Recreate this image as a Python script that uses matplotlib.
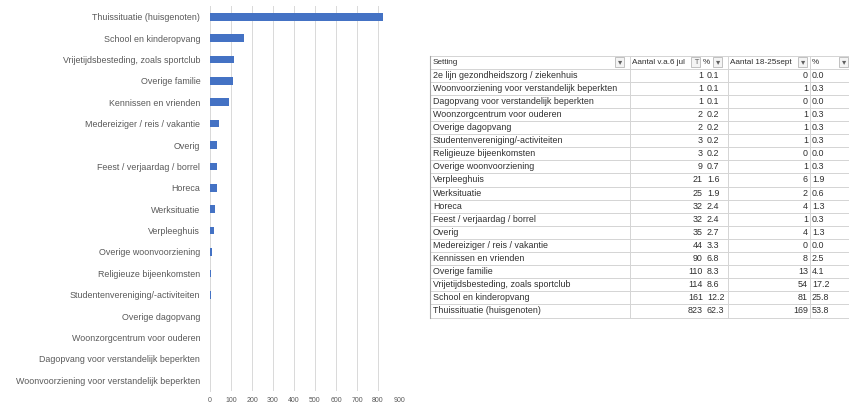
# -*- coding:utf-8 -*-
import matplotlib
matplotlib.use('Agg')
import numpy as np
import matplotlib.pyplot as plt
from matplotlib.patches import Rectangle

plt.rcParams['font.family'] = ['Liberation Sans', 'DejaVu Sans']

# table data (sorted ascending on Aantal v.a.6 jul)
settings = ["2e lijn gezondheidszorg / ziekenhuis",
            "Woonvoorziening voor verstandelijk beperkten",
            "Dagopvang voor verstandelijk beperkten",
            "Woonzorgcentrum voor ouderen",
            "Overige dagopvang",
            "Studentenvereniging/-activiteiten",
            "Religieuze bijeenkomsten",
            "Overige woonvoorziening",
            "Verpleeghuis",
            "Werksituatie",
            "Horeca",
            "Feest / verjaardag / borrel",
            "Overig",
            "Medereiziger / reis / vakantie",
            "Kennissen en vrienden",
            "Overige familie",
            "Vrijetijdsbesteding, zoals sportclub",
            "School en kinderopvang",
            "Thuissituatie (huisgenoten)"]
aantal_jul = [1, 1, 1, 2, 2, 3, 3, 9, 21, 25, 32, 32, 35, 44, 90, 110, 114, 161, 823]
pct_jul = [0.1, 0.1, 0.1, 0.2, 0.2, 0.2, 0.2, 0.7, 1.6, 1.9, 2.4, 2.4, 2.7, 3.3, 6.8, 8.3, 8.6, 12.2, 62.3]
aantal_sept = [0, 1, 0, 1, 1, 1, 0, 1, 6, 2, 4, 1, 4, 0, 8, 13, 54, 81, 169]
pct_sept = [0.0, 0.3, 0.0, 0.3, 0.3, 0.3, 0.0, 0.3, 1.9, 0.6, 1.3, 0.3, 1.3, 0.0, 2.5, 4.1, 17.2, 25.8, 53.8]
headers = ["Setting", "Aantal v.a.6 jul", "%", "Aantal 18-25sept", "%"]

# chart: all settings except the first, largest on top
chart_labels = settings[1:][::-1]
chart_values = aantal_jul[1:][::-1]

W, H = 849, 403
fig = plt.figure(figsize=(W / 100, H / 100), dpi=100)

# ---- bar chart ----
ax = fig.add_axes([210 / W, 1 - 391 / H, 189 / W, 385 / H])
y = np.arange(len(chart_labels))
ax.barh(y, chart_values, height=0.36, color='#4472C4', zorder=3)
ax.set_ylim(len(chart_labels) - 0.5, -0.5)
ax.set_xlim(0, 900)
ax.set_xticks(range(0, 1000, 100))
ax.set_yticks(y)
ax.set_yticklabels(chart_labels, fontsize=6.4, color='#595959')
ax.tick_params(axis='x', labelsize=5, colors='#595959', length=0, pad=4)
ax.tick_params(axis='y', length=0, pad=7)
ax.grid(axis='x', color='#D9D9D9', linewidth=0.7, zorder=0)
for s in ['top', 'right', 'bottom']:
    ax.spines[s].set_visible(False)
ax.spines['left'].set_color('#D9D9D9')
ax.spines['left'].set_linewidth(0.7)

# ---- table ----
tx = fig.add_axes([0, 0, 1, 1])
tx.set_xlim(0, W)
tx.set_ylim(H, 0)
tx.axis('off')

left, right = 430, 849
top, rh = 55.5, 13.1
n_rows = len(settings) + 1
bottom = top + n_rows * rh
txt_color = '#2F2F2F'
fs = 6.4

for i in range(n_rows + 1):
    tx.plot([left, right], [top + i * rh] * 2, color='#D4D4D4', lw=0.7)
tx.plot([left, left], [top, bottom], color='#A6A6A6', lw=0.8)
for xc in [630, 728, 810]:
    tx.plot([xc, xc], [top, bottom], color='#D4D4D4', lw=0.7)

# header
hy = top + rh / 2
header_x = [433, 632, 703, 730, 812]
for h, hx in zip(headers, header_x):
    tx.text(hx, hy, h, fontsize=5.9, color=txt_color, va='center', ha='left')

# dropdown buttons
for bx, glyph in [(620, '▾'), (696, 'T'), (718, '▾'), (803, '▾'), (844, '▾')]:
    tx.add_patch(Rectangle((bx - 4.5, hy - 5), 9, 10, facecolor='#F4F4F4',
                           edgecolor='#B8B8B8', lw=0.6))
    tx.text(bx, hy, glyph, fontsize=5 if glyph == 'T' else 6, color='#606060',
            ha='center', va='center', family='DejaVu Sans')

# rows
for i in range(len(settings)):
    ry = top + (i + 1.5) * rh
    tx.text(433, ry, settings[i], fontsize=fs, color=txt_color, va='center', ha='left')
    tx.text(703, ry, str(aantal_jul[i]), fontsize=fs, color=txt_color, va='center', ha='right')
    tx.text(707, ry, '%.1f' % pct_jul[i], fontsize=fs, color=txt_color, va='center', ha='left')
    tx.text(808, ry, str(aantal_sept[i]), fontsize=fs, color=txt_color, va='center', ha='right')
    tx.text(812, ry, '%.1f' % pct_sept[i], fontsize=fs, color=txt_color, va='center', ha='left')

plt.savefig('out.png', dpi=100)
